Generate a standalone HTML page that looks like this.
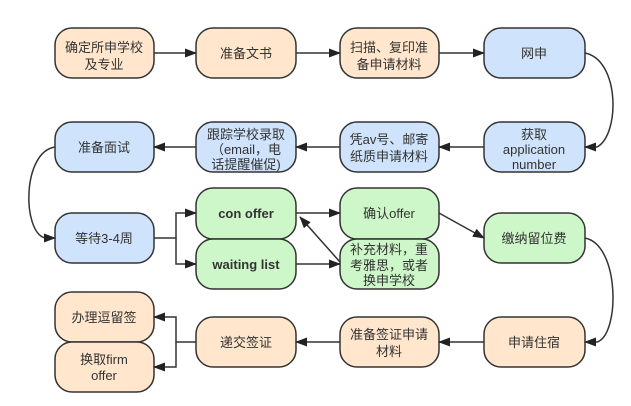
<!DOCTYPE html><html><head><meta charset="utf-8"><style>body{margin:0;background:#fff}svg text{font-family:"Liberation Sans","Noto Sans CJK SC",sans-serif;font-size:13px;fill:#333;text-anchor:middle}</style></head><body>
<svg width="631" height="401" viewBox="0 0 631 401">
<defs><marker id="a" markerWidth="12" markerHeight="10" refX="11" refY="5" orient="auto" markerUnits="userSpaceOnUse"><path d="M0,0.5 L12,5 L0,9.5z" fill="#222"/></marker></defs>
<g stroke="#333" stroke-width="1.5">
<g fill="#ffe6cc">
<rect x="55" y="28" width="99" height="50" rx="17"/><rect x="196" y="28" width="100" height="50" rx="17"/><rect x="340" y="28" width="99" height="50" rx="17"/>
<rect x="55" y="292" width="99" height="50" rx="17"/><rect x="55" y="342" width="99" height="50" rx="17"/><rect x="196" y="317" width="100" height="50" rx="17"/><rect x="340" y="317" width="99" height="50" rx="17"/><rect x="484" y="317" width="101" height="50" rx="17"/></g>
<g fill="#cfe4fc">
<rect x="484" y="28" width="101" height="50" rx="17"/><rect x="484" y="122" width="101" height="50" rx="17"/><rect x="340" y="122" width="99" height="50" rx="17"/><rect x="196" y="122" width="100" height="50" rx="17"/><rect x="55" y="122" width="99" height="50" rx="17"/><rect x="55" y="213" width="99" height="50" rx="17"/></g>
<g fill="#cdf7c8">
<rect x="196" y="188" width="100" height="51" rx="17"/><rect x="196" y="239" width="100" height="50" rx="17"/><rect x="340" y="188" width="99" height="51" rx="17"/><rect x="340" y="239" width="99" height="50" rx="17"/><rect x="484" y="213" width="101" height="50" rx="17"/></g>
<g fill="none" marker-end="url(#a)">
<path d="M154 53H196"/><path d="M296 53H340"/><path d="M439 53H484"/>
<path d="M585 53C620 60 620 135 597 147H585"/>
<path d="M484 147H439"/><path d="M340 147H296"/><path d="M196 147H154"/>
<path d="M55 147C22 152 22 232 45 238H55"/>
<path d="M154 238H176V213H196"/><path d="M176 238V264H196"/>
<path d="M296 213H340"/><path d="M296 264H340"/><path d="M340 262L300 217"/>
<path d="M439 213L484 238"/>
<path d="M585 238C620 245 620 335 597 342H585"/>
<path d="M484 342H439"/><path d="M340 342H296"/>
<path d="M196 342H176V317H154"/><path d="M176 342V367H154"/>
</g></g>
<text x="104" y="52">确定所申学校</text><text x="104" y="69">及专业</text>
<text x="246" y="58">准备文书</text>
<text x="389" y="52">扫描、复印准</text><text x="389" y="69">备申请材料</text>
<text x="534" y="58">网申</text>
<text x="534" y="139">获取</text><text x="534" y="154">application</text><text x="534" y="169">number</text>
<text x="389" y="144">凭av号、邮寄</text><text x="389" y="161">纸质申请材料</text>
<text x="246" y="139">跟踪学校录取</text><text x="246" y="154">（email，电</text><text x="246" y="169">话提醒催促)</text>
<text x="104" y="152">准备面试</text>
<text x="104" y="243">等待3-4周</text>
<text x="246" y="218" font-weight="bold">con offer</text>
<text x="246" y="269" font-weight="bold">waiting list</text>
<text x="389" y="218">确认offer</text>
<text x="389" y="254">补充材料，重</text><text x="389" y="270">考雅思，或者</text><text x="389" y="285">换申学校</text>
<text x="534" y="243">缴纳留位费</text>
<text x="104" y="322">办理逗留签</text>
<text x="104" y="364">换取firm</text><text x="104" y="380">offer</text>
<text x="246" y="347">递交签证</text>
<text x="389" y="339">准备签证申请</text><text x="389" y="356">材料</text>
<text x="534" y="347">申请住宿</text>
</svg></body></html>
